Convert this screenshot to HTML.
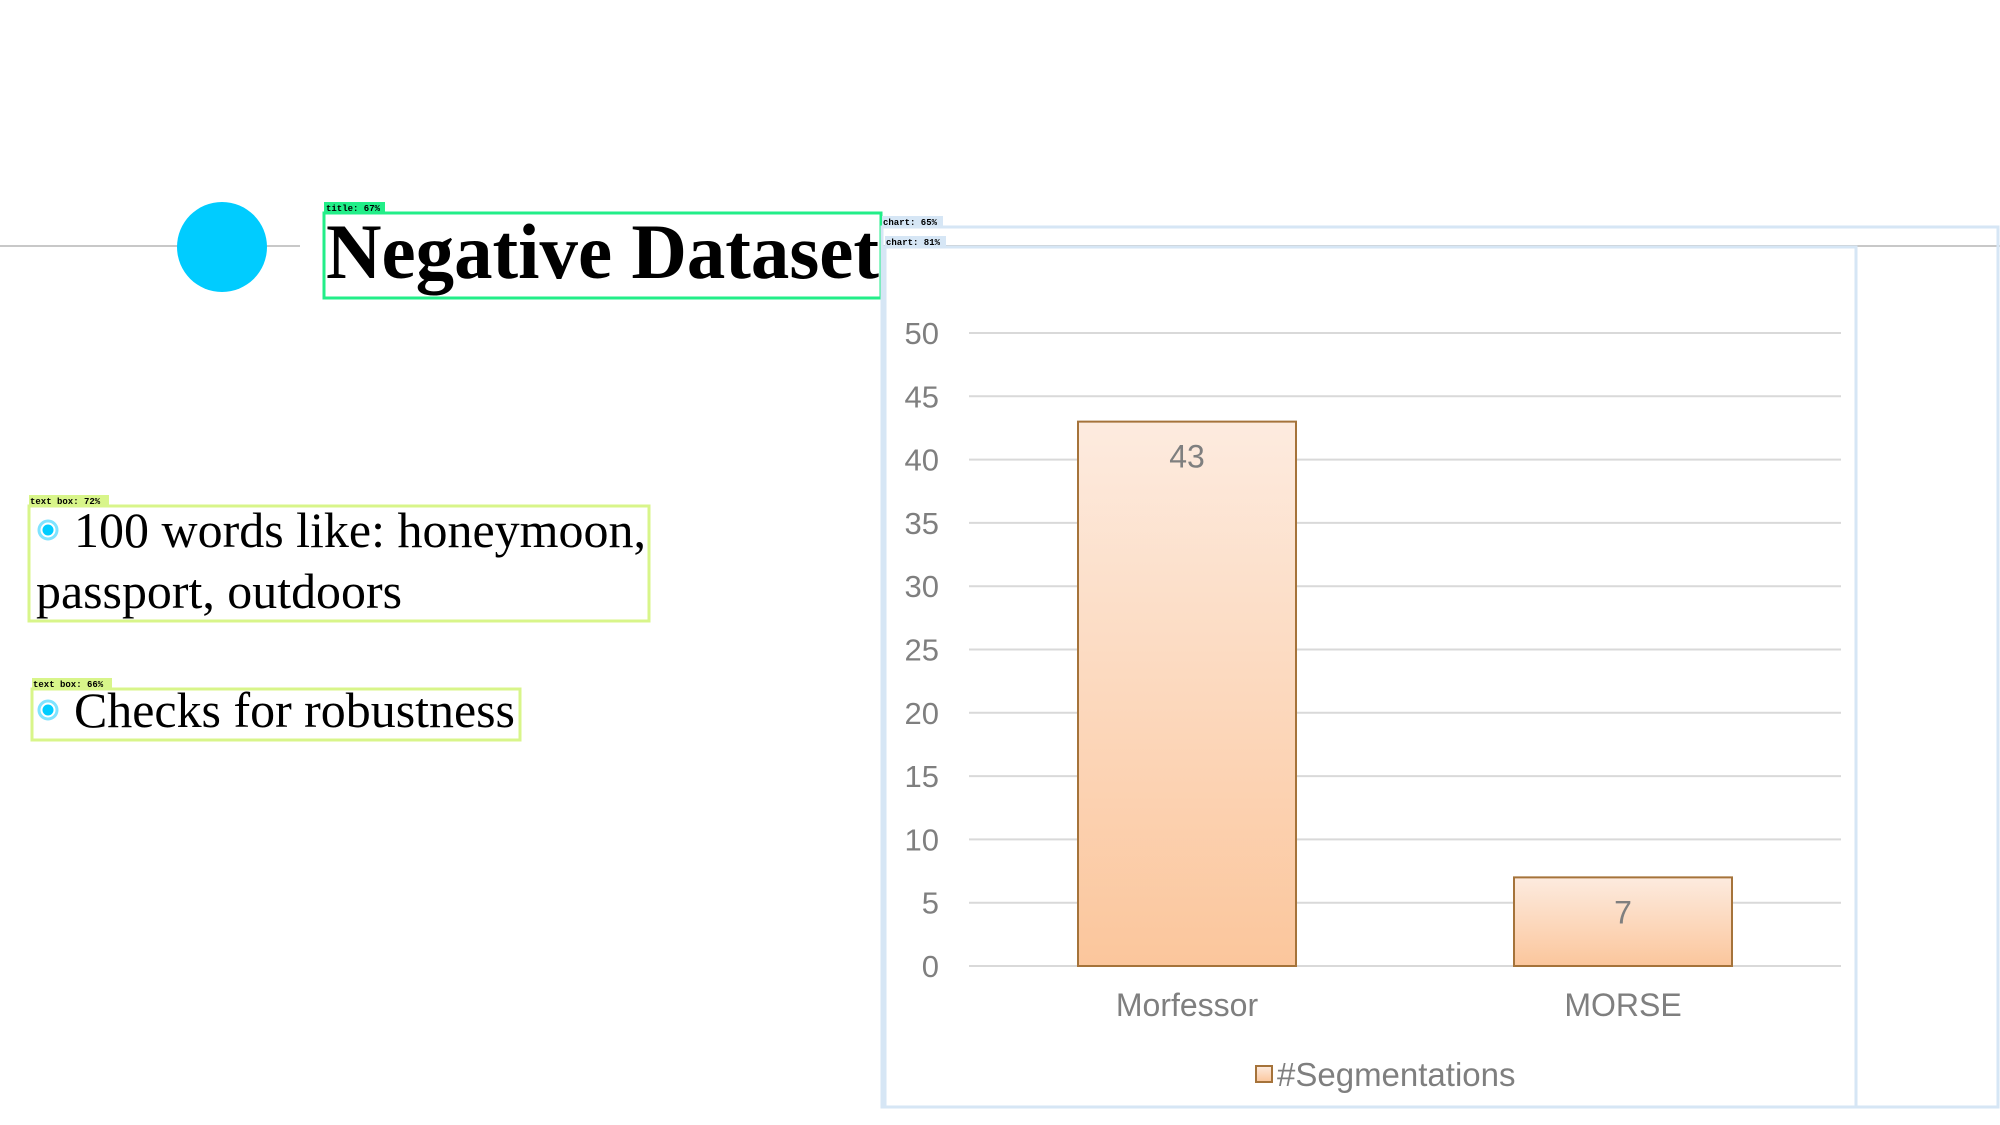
<!DOCTYPE html>
<html><head><meta charset="utf-8"><style>
html,body{margin:0;padding:0;background:#fff;}
svg{display:block;}
.tag{font-family:"Liberation Mono",monospace;font-size:9px;font-weight:bold;}
</style></head><body>
<svg id="root" width="2000" height="1125" viewBox="0 0 2000 1125" xmlns="http://www.w3.org/2000/svg">
<defs>
<linearGradient id="barGrad" x1="0" y1="0" x2="0" y2="1">
<stop offset="0" stop-color="#fdebdf"/><stop offset="1" stop-color="#fbc69c"/>
</linearGradient>
</defs>
<line x1="0" y1="246" x2="300" y2="246" stroke="#c8c8c8" stroke-width="2"/>
<line x1="881" y1="246" x2="2000" y2="246" stroke="#c8c8c8" stroke-width="2"/>
<circle cx="222" cy="247" r="45" fill="#00ccff"/>
<rect x="324" y="213" width="557" height="85" fill="none" stroke="#22ee88" stroke-width="3"/>
<rect x="324" y="202" width="61" height="11" fill="#22ee88"/>
<text x="326" y="211" class="tag">title: 67%</text>
<text x="326" y="278" font-family="'Liberation Serif',serif" font-weight="bold" font-size="78" fill="#000" textLength="553" lengthAdjust="spacingAndGlyphs">Negative Dataset</text>

<rect x="29" y="506" width="620" height="115" fill="none" stroke="#d8f58a" stroke-width="3"/>
<rect x="29" y="495" width="80" height="11" fill="#d8f58a"/>
<text x="30" y="504" class="tag">text box: 72%</text>
<circle cx="48" cy="530" r="9" fill="none" stroke="#7fe3ff" stroke-width="3"/>
<circle cx="48" cy="530" r="5.5" fill="#00ccff"/>
<text x="74" y="547" font-family="'Liberation Serif',serif" font-size="50" fill="#000" textLength="572" lengthAdjust="spacingAndGlyphs">100 words like: honeymoon,</text>
<text x="36" y="608" font-family="'Liberation Serif',serif" font-size="50" fill="#000" textLength="366" lengthAdjust="spacingAndGlyphs">passport, outdoors</text>

<rect x="32" y="689" width="488" height="51" fill="none" stroke="#d8f58a" stroke-width="3"/>
<rect x="32" y="678" width="80" height="11" fill="#d8f58a"/>
<text x="33" y="687" class="tag">text box: 66%</text>
<circle cx="48" cy="710" r="9" fill="none" stroke="#7fe3ff" stroke-width="3"/>
<circle cx="48" cy="710" r="5.5" fill="#00ccff"/>
<text x="74" y="727" font-family="'Liberation Serif',serif" font-size="50" fill="#000" textLength="441" lengthAdjust="spacingAndGlyphs">Checks for robustness</text>

<rect x="882" y="227" width="1116" height="880" fill="none" stroke="#d6e6f5" stroke-width="3"/>
<rect x="882" y="216" width="61" height="11" fill="#d6e6f5"/>
<text x="883" y="225" class="tag">chart: 65%</text>
<rect x="885" y="247" width="971" height="860" fill="none" stroke="#d6e6f5" stroke-width="3"/>
<rect x="885" y="236" width="61" height="11" fill="#d6e6f5"/>
<text x="886" y="245" class="tag">chart: 81%</text>
<g id="chart"></g>
</svg>
<script>
const categories = ["Morfessor", "MORSE"];
const values = [43, 7];
const yTicks = [0, 5, 10, 15, 20, 25, 30, 35, 40, 45, 50];
const seriesName = "#Segmentations";

const NS = "http://www.w3.org/2000/svg";
const g = document.getElementById("chart");
const X0 = 969, X1 = 1841, Y0 = 966, Y1 = 333, YMAX = 50;
const yScale = v => Y0 - (v / YMAX) * (Y0 - Y1);
const band = (X1 - X0) / categories.length;
const xCenter = i => X0 + band * (i + 0.5);
function mk(tag, attrs, text) {
  const e = document.createElementNS(NS, tag);
  for (const k in attrs) e.setAttribute(k, attrs[k]);
  if (text !== undefined) e.textContent = text;
  g.appendChild(e);
  return e;
}
const font = "'Liberation Sans',Arial,sans-serif";
yTicks.forEach(t => {
  const y = yScale(t);
  const l = mk("line", {x1: X0, x2: X1, y1: y, y2: y, stroke: "#d9d9d9", "stroke-width": 2});
  
  
  const tx = mk("text", {x: 939, y: y + 11, "text-anchor": "end", "font-family": font, "font-size": 31, fill: "#7f7f7f"}, String(t));
  
  
});
categories.forEach((c, i) => {
  const w = band * 0.5, x = xCenter(i) - w / 2, y = yScale(values[i]);
  const r = mk("rect", {x: x, y: y, width: w, height: Y0 - y, fill: "url(#barGrad)", stroke: "#a5733a", "stroke-width": 2});
  
  
  const v = mk("text", {x: xCenter(i), y: y + 46, "text-anchor": "middle", "font-family": font, "font-size": 32, fill: "#7f7f7f"}, String(values[i]));
  
  
  const cl = mk("text", {x: xCenter(i), y: 1016, "text-anchor": "middle", "font-family": font, "font-size": 32, fill: "#7f7f7f"}, c);
  
  
});
const ls = mk("rect", {x: 1256, y: 1066, width: 16, height: 16, fill: "url(#barGrad)", stroke: "#a5733a", "stroke-width": 2});


const lt = mk("text", {x: 1277, y: 1086, "font-family": font, "font-size": 33, fill: "#7f7f7f"}, seriesName);


</script>
</body></html>
